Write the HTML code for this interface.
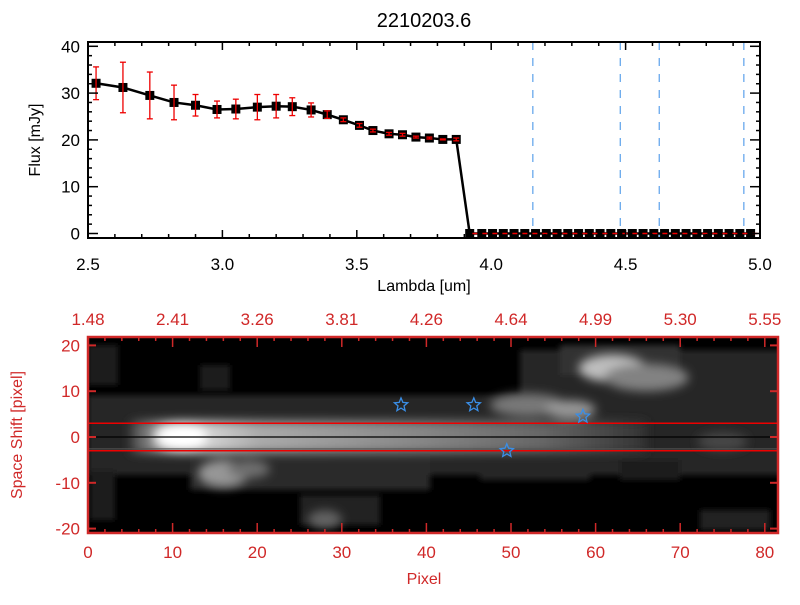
<!DOCTYPE html>
<html><head><meta charset="utf-8">
<style>
body{margin:0;background:#fff;width:800px;height:600px;overflow:hidden;font-family:"Liberation Sans",sans-serif}
svg text{font-family:"Liberation Sans",sans-serif}
</style></head>
<body>
<svg id="c" width="800" height="600" xmlns="http://www.w3.org/2000/svg">
<defs>
<filter id="bl" x="-50%" y="-50%" width="200%" height="200%"><feGaussianBlur stdDeviation="5"/></filter>
<filter id="bl2" x="-50%" y="-50%" width="200%" height="200%"><feGaussianBlur stdDeviation="3"/></filter>
<linearGradient id="streak" x1="0" x2="1" y1="0" y2="0">
<stop offset="0" stop-color="#444"/><stop offset="0.1" stop-color="#e8e8e8"/><stop offset="0.25" stop-color="#aaa"/><stop offset="0.55" stop-color="#888"/><stop offset="0.8" stop-color="#666"/><stop offset="1" stop-color="#333"/>
</linearGradient>
<clipPath id="imclip"><rect x="88" y="337" width="690" height="196"/></clipPath>
</defs>
</svg>
<script>
// ---------- top chart data ----------
const lambdas=[2.53,2.63,2.73,2.82,2.90,2.98,3.05,3.13,3.20,3.26,3.33,3.39,3.45,3.51,3.56,3.62,3.67,3.72,3.77,3.82,3.87];
const fluxes=[32.1,31.2,29.5,28.0,27.4,26.5,26.6,27.0,27.2,27.1,26.4,25.4,24.3,23.1,22.0,21.3,21.1,20.6,20.4,20.1,20.1];
const errors=[3.5,5.4,5.0,3.7,2.3,1.8,2.1,2.7,2.5,1.9,1.5,0.8,0.4,0.4,0.3,0.3,0.3,0.2,0.2,0.1,0.3];
const zeroLambdas=[3.92,3.965,4.005,4.045,4.085,4.125,4.165,4.205,4.245,4.285,4.325,4.365,4.405,4.445,4.485,4.525,4.565,4.605,4.645,4.685,4.725,4.765,4.805,4.845,4.885,4.925,4.965];
const zeroFluxes=zeroLambdas.map(()=>0);
const lineLambdas=[4.155,4.48,4.625,4.94];
const xTicks=["2.5","3.0","3.5","4.0","4.5","5.0"];
const xTickVals=[2.5,3.0,3.5,4.0,4.5,5.0];
const yTickVals=[0,10,20,30,40];
// ---------- bottom image data ----------
const topLabels=["1.48","2.41","3.26","3.81","4.26","4.64","4.99","5.30","5.55"];
const topLabelPix=[0,10,20,30,40,50,60,70,80];
const pxTickVals=[0,10,20,30,40,50,60,70,80];
const shiftTickVals=[-20,-10,0,10,20];
const starPix=[37.0,45.6,58.5,49.5];
const starShift=[7.0,7.0,4.5,-3.0];
const blobPix=[11,16,19,52,57,62,66,28,54,75];
const blobShift=[0,-8,-7,7,6,15,13,-18,-24,-1];
const blobR=[6,6,5,9,6,8,10,4,5,6];
const blobRy=[3,3,2,2.5,2,3,3,2,2,2];
const blobLum=[255,150,110,120,150,190,130,100,60,70];

const NS="http://www.w3.org/2000/svg";
const svg=document.getElementById('c');
function el(t,a,p){const e=document.createElementNS(NS,t);for(const k in a)e.setAttribute(k,a[k]);(p||svg).appendChild(e);return e;}
function txt(s,a,p){const e=el('text',a,p);e.textContent=s;return e;}

// top axes
const X0=88,X1=760,Y0=238,Y1=42;
const xs=v=>X0+(v-2.5)/(2.5)*(X1-X0);
const ys=v=>233.5-v*4.68;
const title=txt("2210203.6",{x:424,y:27,'font-size':20,'text-anchor':'middle',fill:'#000'});


const gTop=el('g',{});


lineLambdas.forEach(l=>{
 const ln=el('line',{x1:xs(l),x2:xs(l),y1:Y1,y2:Y0,stroke:'#3a8ee6','stroke-width':1,'stroke-dasharray':'8,8'},gTop);
 
 
});
const allL=lambdas.concat(zeroLambdas), allF=fluxes.concat(zeroFluxes);
const path=el('polyline',{points:allL.map((l,i)=>xs(l)+','+ys(allF[i])).join(' '),fill:'none',stroke:'#000','stroke-width':2.5},gTop);


allL.forEach((l,i)=>{
 const m=el('rect',{x:xs(l)-4.5,y:ys(allF[i])-4.5,width:9,height:9,fill:'#000'},gTop);
 
 
});
lambdas.forEach((l,i)=>{
 const x=xs(l),a=ys(fluxes[i]+errors[i]),b=ys(fluxes[i]-errors[i]);
 const g=el('g',{stroke:'#e00','stroke-width':1.3},gTop);
 
 
 el('line',{x1:x,x2:x,y1:a,y2:b},g);
 el('line',{x1:x-3,x2:x+3,y1:a,y2:a},g);
 el('line',{x1:x-3,x2:x+3,y1:b,y2:b},g);
});
const zl=el('line',{x1:xs(3.93),x2:X1,y1:ys(0),y2:ys(0),stroke:'#e00','stroke-width':1.5,'stroke-dasharray':'5,5'},gTop);


const fr=el('rect',{x:X0,y:Y1,width:X1-X0,height:Y0-Y1,fill:'none',stroke:'#000','stroke-width':2},gTop);


for(let v=2.5;v<=5.001;v+=0.1){const x=xs(v);const maj=Math.abs(v*2-Math.round(v*2))<0.01;const h=maj?8:4;
 el('line',{x1:x,x2:x,y1:Y0,y2:Y0-h,stroke:'#000','stroke-width':1.5},gTop);el('line',{x1:x,x2:x,y1:Y1,y2:Y1+h,stroke:'#000','stroke-width':1.5},gTop);}
for(let v=0;v<=42;v+=2){const y=ys(v);if(y<Y1)break;const h=v%10==0?10:4;
 el('line',{x1:X0,x2:X0+h,y1:y,y2:y,stroke:'#000','stroke-width':1.5},gTop);el('line',{x1:X1,x2:X1-h,y1:y,y2:y,stroke:'#000','stroke-width':1.5},gTop);}
xTickVals.forEach((v,i)=>{const t=txt(xTicks[i],{x:xs(v),y:270,'font-size':17,'text-anchor':'middle'});
 });
yTickVals.forEach(v=>{const t=txt(String(v),{x:80,y:ys(v)+6,'font-size':17,'text-anchor':'end'});
 });
const xt=txt("Lambda [um]",{x:424,y:291,'font-size':16,'text-anchor':'middle'});

const yt=txt("Flux [mJy]",{x:0,y:0,'font-size':16,'text-anchor':'middle',transform:'translate(40,140) rotate(-90)'});


// bottom image
const B0=88,B1=778,BT=337,BB=533;
const px=v=>88+v*8.46;
const sy=v=>437-v*4.58;
const RED='#d02828';
const gB=el('g',{});


const gi=el('g',{'clip-path':'url(#imclip)'},gB);
el('rect',{x:B0,y:BT,width:B1-B0,height:BB-BT,fill:'#000'},gi);
const gh=el('g',{filter:'url(#bl2)'},gi);
const noise=[[88,395,700,80,'#262626'],[88,345,30,40,'#1e1e1e'],[200,365,30,25,'#1c1c1c'],[520,350,260,60,'#262626'],[560,345,120,30,'#333'],[190,455,240,35,'#2a2a2a'],[300,495,80,30,'#202020'],[480,450,110,30,'#262626'],[700,510,70,20,'#222'],[620,460,60,20,'#1c1c1c'],[90,470,25,50,'#1e1e1e']];
noise.forEach(n=>el('rect',{x:n[0],y:n[1],width:n[2],height:n[3],fill:n[4]},gh));
const gb=el('g',{filter:'url(#bl)'},gi);
el('rect',{x:px(5),y:sy(3.5),width:px(66)-px(5),height:sy(-3.5)-sy(3.5),fill:'url(#streak)'},gb);
blobPix.forEach((p,i)=>{const l=blobLum[i];
 const b=el('ellipse',{cx:px(p),cy:sy(blobShift[i]),rx:blobR[i]*8.46/2,ry:blobRy[i]*4.58,fill:`rgb(${l},${l},${l})`},gb);
 });
el('line',{x1:B0,x2:B1,y1:sy(3),y2:sy(3),stroke:'#e00','stroke-width':1.5},gB);
el('line',{x1:B0,x2:B1,y1:sy(-3),y2:sy(-3),stroke:'#e00','stroke-width':1.5},gB);
el('line',{x1:B0,x2:B1,y1:sy(0),y2:sy(0),stroke:'#000','stroke-width':1.2},gB);
el('line',{x1:B0,x2:B1,y1:sy(-2.6),y2:sy(-2.6),stroke:'#555','stroke-width':1},gB);
function star(cx,cy,r){let p=[];for(let k=0;k<10;k++){const a=-Math.PI/2+k*Math.PI/5,rr=k%2?r*0.45:r;p.push((cx+rr*Math.cos(a)).toFixed(1)+','+(cy+rr*Math.sin(a)).toFixed(1));}return p.join(' ');}
starPix.forEach((p,i)=>{const s=el('polygon',{points:star(px(p),sy(starShift[i]),7),fill:'none',stroke:'#3a8ee6','stroke-width':1.3},gB);
 });
const bf=el('rect',{x:B0,y:BT,width:B1-B0,height:BB-BT,fill:'none',stroke:RED,'stroke-width':2.5},gB);

for(let v=0;v<=81;v++){const x=px(v);const h=v%10==0?10:(v%2==0?4:0);if(!h)continue;
 el('line',{x1:x,x2:x,y1:BB,y2:BB-h,stroke:RED,'stroke-width':1.5},gB);el('line',{x1:x,x2:x,y1:BT,y2:BT+h,stroke:RED,'stroke-width':1.5},gB);}
shiftTickVals.forEach(v=>{const y=sy(v);el('line',{x1:B0,x2:B0+8,y1:y,y2:y,stroke:RED,'stroke-width':2},gB);el('line',{x1:B1,x2:B1-8,y1:y,y2:y,stroke:RED,'stroke-width':2},gB);
 const t=txt(String(v),{x:80,y:y+6,'font-size':17,'text-anchor':'end',fill:RED});});
pxTickVals.forEach(v=>{const t=txt(String(v),{x:px(v),y:558,'font-size':17,'text-anchor':'middle',fill:RED});
 });
topLabels.forEach((s,i)=>{const t=txt(s,{x:px(topLabelPix[i]),y:325,'font-size':17,'text-anchor':'middle',fill:RED});
 });
const pt=txt("Pixel",{x:424,y:584,'font-size':16,'text-anchor':'middle',fill:RED});

const st=txt("Space Shift [pixel]",{x:0,y:0,'font-size':16,'text-anchor':'middle',fill:RED,transform:'translate(22,435) rotate(-90)'});

</script>
</body></html>
